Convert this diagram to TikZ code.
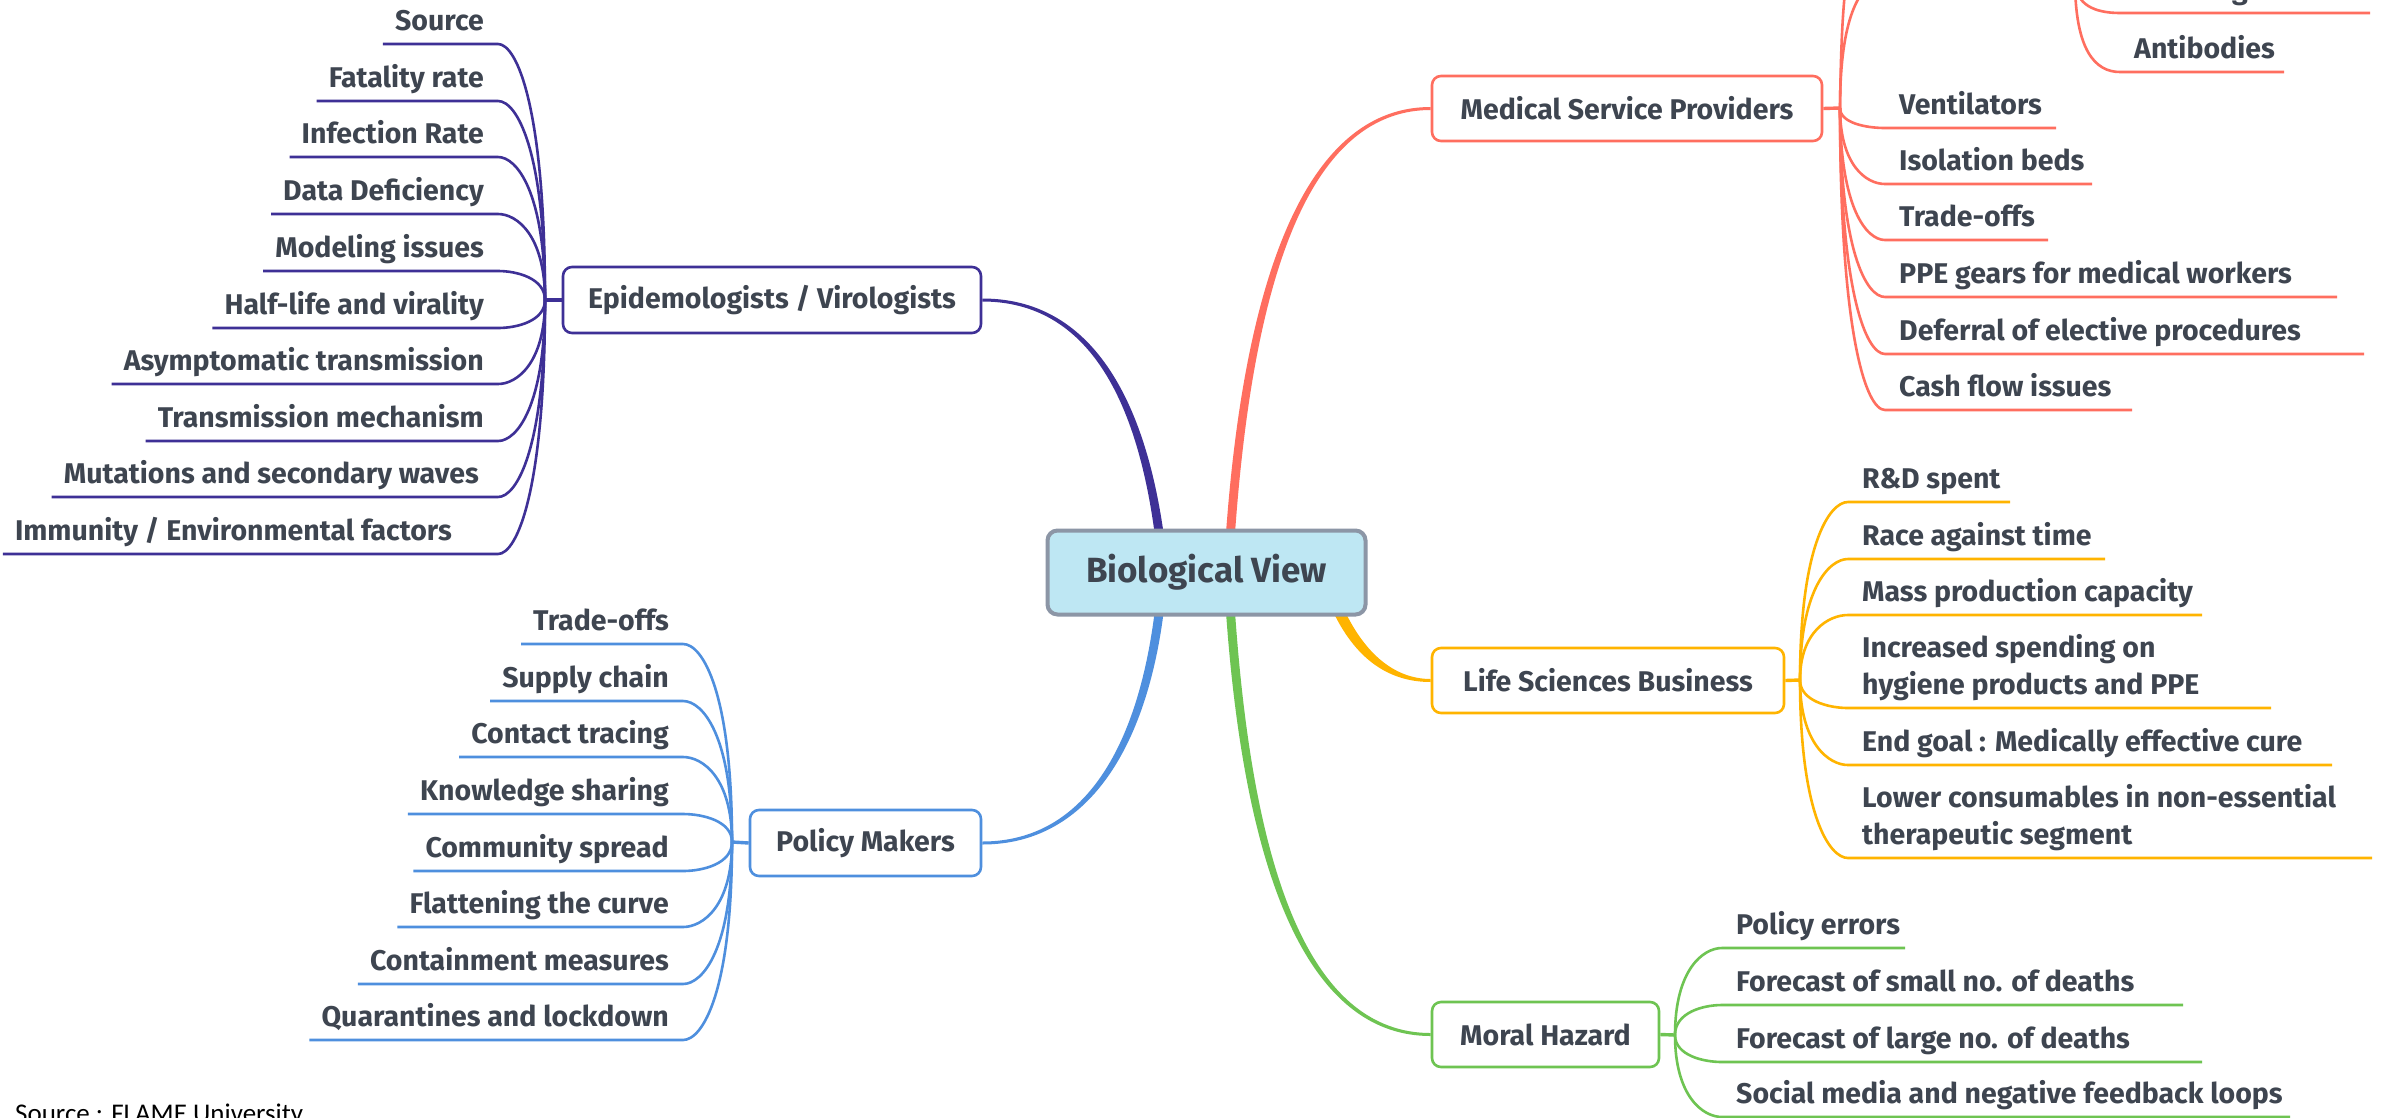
\documentclass[tikz,border=0pt]{standalone}
\usepackage{fontspec}
\setmainfont{Fira Sans}
\newfontfamily\mmfont{Fira Sans Bold}
\newfontfamily\notefont{Carlito}
\usetikzlibrary{calc}
\definecolor{txt}{RGB}{62,69,80}
\definecolor{cEpi}{RGB}{62,48,150}
\definecolor{cMed}{RGB}{255,110,95}
\definecolor{cLife}{RGB}{255,180,0}
\definecolor{cMor}{RGB}{110,196,82}
\definecolor{cPol}{RGB}{78,143,222}
\definecolor{cCenFill}{RGB}{190,231,243}
\definecolor{cCenLine}{RGB}{140,150,166}
\tikzset{
  topicbox/.style={draw, line width=2.6pt, rounded corners=9pt, fill=white,
    font=\mmfont\fontsize{28.5}{35}\selectfont, text=txt, inner sep=0pt},
  item/.style={font=\mmfont\fontsize{28.5}{37}\selectfont, text=txt, inner xsep=14pt, inner ysep=0pt},
  ln/.style={line width=2.6pt},
  stub/.style={line width=3.4pt}
}
\begin{document}
\begin{tikzpicture}[x=1pt,y=-1pt]
\useasboundingbox (0,0) rectangle (2384,1117);
\clip (0,0) rectangle (2384,1117);
\fill[white] (0,0) rectangle (2384,1117);

% ---------- main topic boxes ----------
\node[topicbox, draw=cEpi, minimum width=418pt, minimum height=66pt] (epi) at (772,300) {Epidemologists / Virologists};
\node[topicbox, draw=cMed, minimum width=390pt, minimum height=65pt] (med) at (1627,108.5) {Medical Service Providers};
\node[topicbox, draw=cLife, minimum width=352pt, minimum height=65pt] (life) at (1608,680.5) {Life Sciences Business};
\node[topicbox, draw=cMor, minimum width=227pt, minimum height=65pt] (mor) at (1545.5,1034.5) {Moral Hazard};
\node[topicbox, draw=cPol, minimum width=231pt, minimum height=66pt] (pol) at (865.5,843) {Policy Makers};

% ---------- tapered main branches ----------
\fill[cEpi] (1164.5,540) .. controls (1146,400) and (1092,298.5) .. (epi.east |- 0,298.5) -- (epi.east |- 0,301.5) .. controls (1088,301.5) and (1138,400) .. (1155.5,540) -- cycle;
\fill[cMed] (1225.5,540) .. controls (1240,330) and (1288,107) .. (med.west |- 0,107) -- (med.west |- 0,110) .. controls (1292,110) and (1249,330) .. (1234.5,540) -- cycle;
\fill[cPol] (1164.5,605) .. controls (1149,740) and (1092,844.5) .. (pol.east |- 0,844.5) -- (pol.east |- 0,841.5) .. controls (1088,841.5) and (1140,740) .. (1155.5,605) -- cycle;
\fill[cMor] (1225.5,605) .. controls (1240,820) and (1288,1036) .. (mor.west |- 0,1036) -- (mor.west |- 0,1033) .. controls (1292,1033) and (1249,820) .. (1234.5,605) -- cycle;
\fill[cLife] (1330,605) .. controls (1352,655) and (1385,682) .. (life.west |- 0,682) -- (life.west |- 0,679) .. controls (1392,679) and (1362,650) .. (1342,605) -- cycle;

% ---------- central topic ----------
\node[draw=cCenLine, fill=cCenFill, line width=4pt, rounded corners=10pt, minimum width=318pt, minimum height=84pt,
  font=\mmfont\fontsize{35}{42}\selectfont, text=txt, inner sep=0pt] (cv) at (1206.5,572.5) {Biological View};

% ---------- trunks ----------
\coordinate (eT) at (545,300);
\coordinate (pT) at (732,842);
\coordinate (mT) at (1840,108);
\coordinate (lT) at (1800,680);
\coordinate (hT) at (1675,1035);
\draw[stub,cEpi] (epi.west) -- (eT);
\draw[stub,cPol] (pol.west) -- (pT);
\draw[stub,cMed] (med.east) -- (mT);
\draw[stub,cLife] (life.east) -- (lT);
\draw[stub,cMor] (mor.east) -- (hT);

% ---------- Epidemologists / Virologists ----------
\foreach \nm/\u/\xr/\tx in {e1/44/496/Source, e2/101/496/Fatality rate, e3/157/496/Infection Rate,
  e4/214/496/Data Deficiency, e5/271/496/Modeling issues, e6/328/496/Half-life and virality,
  e7/384/496/Asymptomatic transmission, e8/441/496/Transmission mechanism,
  e9/497/491/Mutations and secondary waves, e10/554/464/{Immunity / Environmental factors}} {
  \pgfmathsetmacro{\cy}{\u+0.25*(300-\u)}
  \node[item, anchor=base east, inner xsep=12pt] (\nm) at (\xr,{\u-14}) {\tx};
  \draw[ln,cEpi] ([yshift=-14pt]\nm.base west) -- (498,\u) .. controls (517,\u) and (545,\cy) .. (eT);
}

% ---------- Policy Makers ----------
\foreach \nm/\u/\tx in {p1/644/Trade-offs, p2/701/Supply chain, p3/757/Contact tracing,
  p4/814/Knowledge sharing, p5/871/Community spread, p6/927/Flattening the curve,
  p7/984/Containment measures, p8/1040/Quarantines and lockdown} {
  \pgfmathsetmacro{\cy}{\u+0.25*(842-\u)}
  \node[item, anchor=base east, inner xsep=12pt] (\nm) at (681,{\u-14}) {\tx};
  \draw[ln,cPol] ([yshift=-14pt]\nm.base west) -- (683,\u) .. controls (703,\u) and (732,\cy) .. (pT);
}

% ---------- Medical Service Providers ----------
\foreach \nm/\u/\r/\tx in {m1/128/2056/Ventilators, m2/184/2092/Isolation beds, m3/240/2048/Trade-offs,
  m4/297/2337/PPE gears for medical workers, m5/354/2364/Deferral of elective procedures,
  m6/410/2132/Cash flow issues} {
  \pgfmathsetmacro{\cy}{\u+0.25*(108-\u)}
  \node[item, anchor=base west] (\nm) at (1885,{\u-14}) {\tx};
  \draw[ln,cMed] (mT) .. controls (1840,\cy) and (1866,\u) .. ([yshift=-14pt]\nm.base west) -- (\r,\u);
}
% branches continuing above the picture
\coordinate (m0) at (1885,-20);
\coordinate (mU) at (1885,-77);
\coordinate (sT) at (2075,-20);
\draw[ln,cMed] (mT) .. controls (1840,12) and (1862,-20) .. (m0) -- (sT);
\draw[ln,cMed] (mT) .. controls (1842,-40) and (1850,-77) .. (mU);
\node[item, anchor=base west, inner xsep=0pt] (sg) at (2232,-1) {g};
\coordinate (sgU) at (2120,13);
\draw[ln,cMed] (sT) .. controls (2075,5) and (2095,13) .. (sgU) -- (2370,13);
\node[item, anchor=base west] (s2) at (2120,58) {Antibodies};
\draw[ln,cMed] (sT) .. controls (2075,50) and (2095,72) .. ([yshift=-14pt]s2.base west) -- (2284,72);

% ---------- Life Sciences Business ----------
\foreach \nm/\u/\r/\tx in {l1/502/2010/R\&D spent, l2/559/2105/Race against time,
  l3/615/2202/Mass production capacity,
  l4/708/2271/{\begin{tabular}[b]{@{}l@{}}Increased spending on\\hygiene products and PPE\end{tabular}},
  l5/765/2332/End goal : Medically effective cure,
  l6/858/2372/{\begin{tabular}[b]{@{}l@{}}Lower consumables in non-essential\\therapeutic segment\end{tabular}}} {
  \pgfmathsetmacro{\cy}{\u+0.25*(680-\u)}
  \node[item, anchor=base west] (\nm) at (1848,{\u-14}) {\tx};
  \draw[ln,cLife] (lT) .. controls (1800,\cy) and (1829,\u) .. ([yshift=-14pt]\nm.base west) -- (\r,\u);
}

% ---------- Moral Hazard ----------
\foreach \nm/\u/\r/\tx in {h1/948/1905/Policy errors, h2/1005/2183/Forecast of small no. of deaths,
  h3/1062/2202/Forecast of large no. of deaths, h4/1117/2290/Social media and negative feedback loops} {
  \pgfmathsetmacro{\cy}{\u+0.25*(1035-\u)}
  \node[item, anchor=base west] (\nm) at (1722,{\u-14}) {\tx};
  \draw[ln,cMor] (hT) .. controls (1675,\cy) and (1703,\u) .. ([yshift=-14pt]\nm.base west) -- (\r,\u);
}

% ---------- source note ----------
\node[anchor=base west, inner sep=0pt, font=\notefont\fontsize{27}{32}\selectfont, text=black] (note) at (15,1122) {Source : FLAME University};
\end{tikzpicture}
\end{document}
